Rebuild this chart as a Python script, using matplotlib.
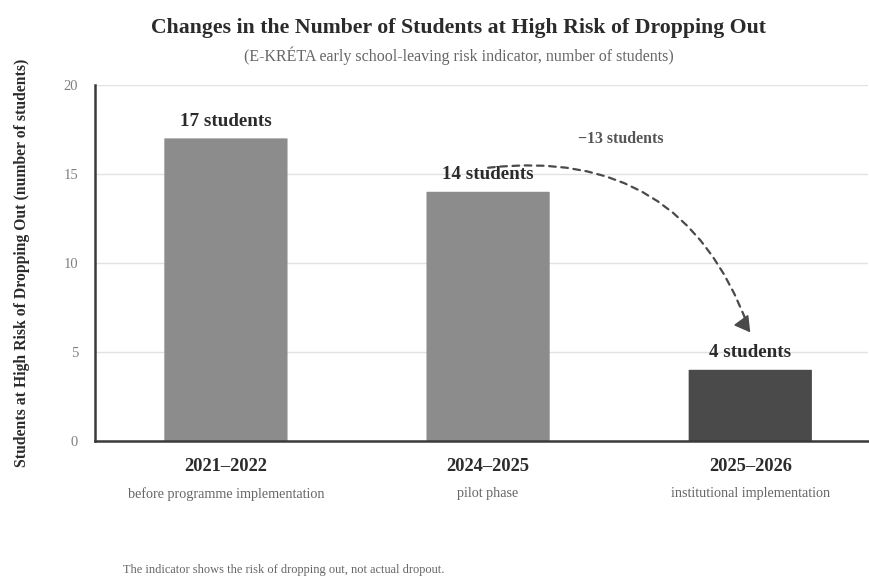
import matplotlib.pyplot as plt
from matplotlib.patches import FancyBboxPatch

plt.rcParams["font.family"] = ["Liberation Serif", "DejaVu Serif"]

periods = ["2021–2022", "2024–2025", "2025–2026"]
phases = ["before programme implementation", "pilot phase", "institutional implementation"]
students = [17, 14, 4]
change_label = "−13 students"

BAR_COLORS = ["#8c8c8c", "#8c8c8c", "#4a4a4a"]
BAR_W = 0.47

fig = plt.figure(figsize=(8.7, 5.78), dpi=100)
ax = fig.add_axes([0.109, 0.237, 0.889, 0.616])

for i, (v, c) in enumerate(zip(students, BAR_COLORS)):
    ax.add_patch(FancyBboxPatch((i - BAR_W / 2, 0), BAR_W, v,
                                boxstyle="round,pad=0,rounding_size=0.01",
                                mutation_aspect=17.8 / 262.5 * 10,
                                fc=c, ec="none", zorder=3))
    ax.text(i, v + 0.95, f"{v} students", ha="center", va="center",
            fontsize=13.7, fontweight="bold", color="#2b2b2b", zorder=4)

ax.set_xlim(-0.5, 2.45)
ax.set_ylim(0, 20)
ax.set_yticks([0, 5, 10, 15, 20])
ax.tick_params(axis="y", length=0, labelsize=10.5, labelcolor="#808080", pad=12)
ax.set_xticks([])
ax.grid(axis="y", color="#e2e2e2", lw=1, zorder=0)
for s in ["top", "right"]:
    ax.spines[s].set_visible(False)
for s in ["left", "bottom"]:
    ax.spines[s].set_color("#3a3a3a")
    ax.spines[s].set_linewidth(1.8)
    ax.spines[s].set_zorder(5)

# category labels under the axis
for i, (p, ph) in enumerate(zip(periods, phases)):
    ax.annotate(p, (i, 0), xytext=(0, -18), textcoords="offset points",
                ha="center", va="center", fontsize=13.3, fontweight="bold",
                color="#2b2b2b", annotation_clip=False)
    ax.annotate(ph, (i, 0), xytext=(0, -38), textcoords="offset points",
                ha="center", va="center", fontsize=10.2, color="#666666",
                annotation_clip=False)

# dashed curved arrow between the last two bars (solid head drawn separately)
ax.annotate("", xy=(2.0, 6.1), xytext=(1.0, 15.35),
            arrowprops=dict(arrowstyle="-", shrinkA=0, shrinkB=5,
                            connectionstyle="arc3,rad=-0.4", ls=(0, (3, 2.5)),
                            lw=1.6, color="#4a4a4a"), zorder=4)
ax.annotate("", xy=(2.0, 6.1), xytext=(1.975, 6.6),
            arrowprops=dict(arrowstyle="-|>,head_length=0.95,head_width=0.55",
                            shrinkA=0, shrinkB=0, lw=1.2, color="#4a4a4a"), zorder=4)
ax.text(1.505, 16.95, change_label, ha="center", va="center",
        fontsize=11.4, fontweight="bold", color="#555555")

ax.set_ylabel("Students at High Risk of Dropping Out (number of students)",
              fontsize=11.3, fontweight="bold", color="#2b2b2b", labelpad=24)

fig.text(0.527, 0.951, "Changes in the Number of Students at High Risk of Dropping Out",
         ha="center", va="center", fontsize=15.7, fontweight="bold", color="#2b2b2b")
fig.text(0.527, 0.903, "(E-KRÉTA early school-leaving risk indicator, number of students)",
         ha="center", va="center", fontsize=11.5, color="#666666")
fig.text(0.141, 0.014, "The indicator shows the risk of dropping out, not actual dropout.",
         ha="left", va="center", fontsize=8.9, color="#666666")

fig.savefig("out.png", dpi=100)
